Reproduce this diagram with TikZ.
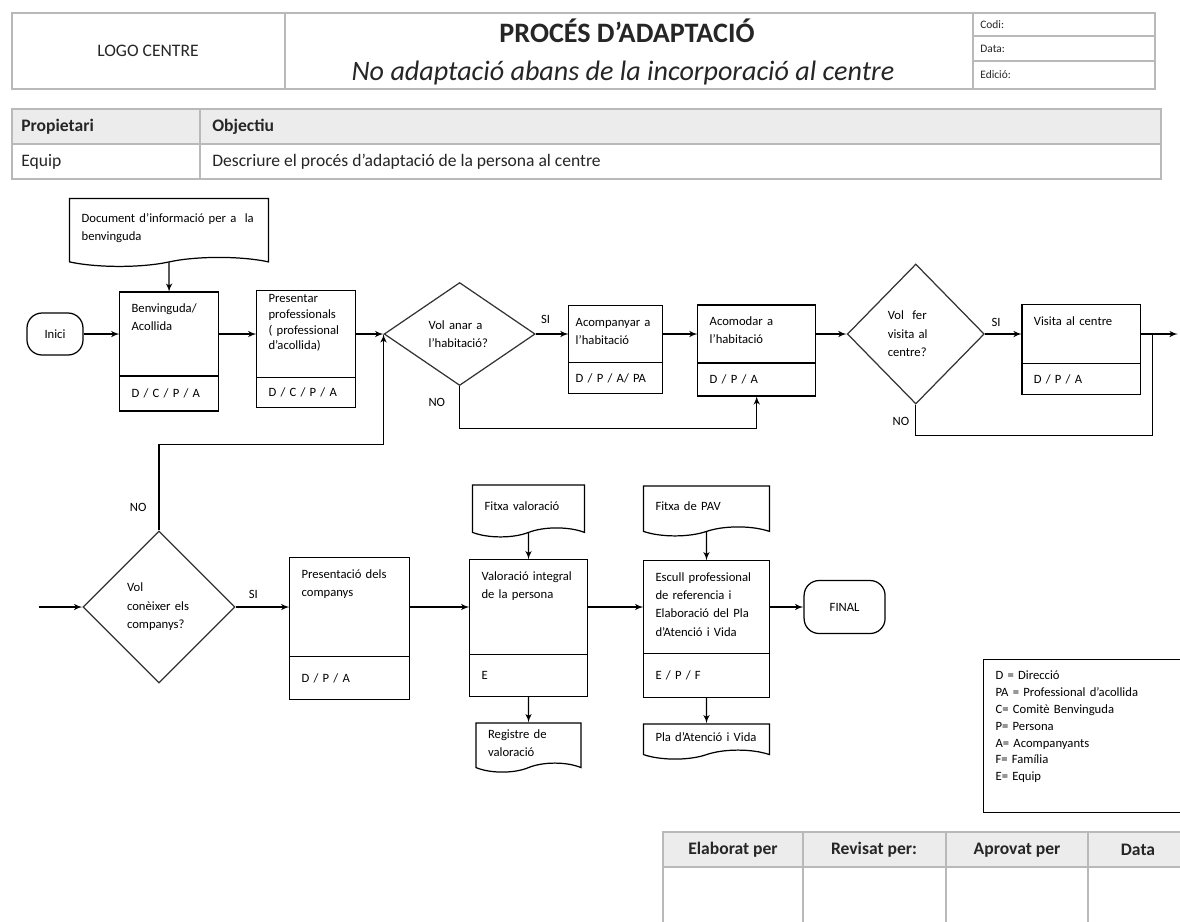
\documentclass[tikz,border=0pt]{standalone}
\usepackage{fontspec}
\setmainfont{Carlito}
\usepackage{tikz}
\usetikzlibrary{positioning}
\usetikzlibrary{arrows}
\usetikzlibrary{shapes}
\tikzstyle{line} = [draw, -latex', line width=0.7pt]
\newcommand{\petit}{\fontsize{7.2}{10.5}\selectfont}

\begin{document}
\begin{tikzpicture}[x=0.02cm, y=-0.02cm]

\tikzstyle{pas} = [rectangle, draw, align=left, outer sep=0pt, inner xsep=0.24cm, inner ysep=0.13cm, text height=0.28cm, font=\petit, line width=0.7pt]
\tikzstyle{rol} = [rectangle, draw, align=left, outer sep=0pt, inner xsep=0.24cm, inner ysep=0pt, font=\petit, line width=0.7pt]
\tikzstyle{decisio} = [diamond, draw=black!80, align=left, inner sep=0pt, font=\petit, line width=0.7pt]
\tikzstyle{doc} = [tape, tape bend top=none, tape bend bottom=in and out, tape bend height=0.18cm, draw, align=left, inner xsep=0.24cm, font=\petit, line width=0.7pt]
\tikzstyle{terminal} = [rectangle, rounded corners=0.3cm, draw, font=\petit, line width=0.7pt]
\tikzstyle{etiqueta} = [font=\petit, inner sep=0pt]
\tikzstyle{taula} = [draw=gray!55, line width=0.9pt]
\tikzstyle{cel} = [inner sep=0pt, text=black!85, font=\fontsize{10}{12}\selectfont]

\fill [white] (0,0) rectangle (1180,921);
\useasboundingbox (0,0) rectangle (1180,921);
\clip (0,0) rectangle (1180,921);

% Capcalera
\draw [taula] (12,13) rectangle (1155,89);
\draw [taula] (285,13) -- (285,89) (973,13) -- (973,89) (973,36) -- (1155,36) (973,61) -- (1155,61);
\node [cel] (logo) at (148,51) {LOGO CENTRE};
\node [cel, anchor=base, font=\fontsize{16}{19}\selectfont\bfseries] (titol) at (627,42) {PROCÉS D’ADAPTACIÓ};
\node [cel, anchor=base, font=\fontsize{16}{19}\selectfont\itshape] (subtitol) at (623,80) {No adaptació abans de la incorporació al centre};
\node [cel, anchor=west, font=\fontsize{6.5}{8}\selectfont] (codi) at (980,25) {Codi:};
\node [cel, anchor=west, font=\fontsize{6.5}{8}\selectfont] (data) at (980,49) {Data:};
\node [cel, anchor=west, font=\fontsize{6.5}{8}\selectfont] (edicio) at (980,75) {Edició:};

% Propietari / Objectiu
\fill [gray!15] (12,109) rectangle (1161,144);
\draw [taula] (12,109) rectangle (1161,179);
\draw [taula] (12,144) -- (1161,144) (200,109) -- (200,179);
\node [cel, anchor=west, font=\fontsize{10}{12}\selectfont\bfseries] (propietari) at (21,127) {Propietari};
\node [cel, anchor=west, font=\fontsize{10}{12}\selectfont\bfseries] (objectiu) at (212,127) {Objectiu};
\node [cel, anchor=west] (equip) at (21,162) {Equip};
\node [cel, anchor=west] (descripcio) at (212,162) {Descriure el procés d’adaptació de la persona al centre};

% Fila 1
\node [terminal, minimum width=1.12cm, minimum height=0.84cm] (inici) at (55,334) {Inici};
\node [pas, right=0.72cm of inici, text width=1.50cm, text depth=1.14cm] (benvinguda) {Benvinguda/\\Acollida};
\node [rol, below=0pt of benvinguda, text width=1.50cm, minimum height=0.70cm] (benvinguda_rol) {D / C / P / A};
\node [doc, above=0.68cm of benvinguda, text width=3.50cm, minimum height=1.36cm] (doc_info) {Document d’informació per a~~la\\benvinguda};
\node [pas, right=0.76cm of benvinguda, text width=1.50cm, text height=0.11cm, text depth=1.37cm, font=\fontsize{7.2}{9}\selectfont] (presentar) {Presentar\\professionals\\( professional\\d’acollida)};
\node [rol, below=0pt of presentar, text width=1.50cm, minimum height=0.60cm] (presentar_rol) {D / C / P / A};
\node [decisio, right=0.56cm of presentar, minimum width=3.02cm, minimum height=2.06cm, text width=1.24cm] (vol_habitacio) {Vol anar a\\l’habitació?};
\node [pas, right=0.66cm of vol_habitacio, inner xsep=0.14cm, text width=1.60cm, text depth=0.60cm] (acompanyar) {Acompanyar a\\l’habitació};
\node [rol, below=0pt of acompanyar, inner xsep=0.14cm, text width=1.60cm, minimum height=0.62cm] (acompanyar_rol) {D / P / A/ PA};
\node [pas, right=0.70cm of acompanyar, text width=1.88cm, text depth=0.62cm] (acomodar) {Acomodar a\\l’habitació};
\node [rol, below=0pt of acomodar, text width=1.88cm, minimum height=0.66cm] (acomodar_rol) {D / P / A};
\node [decisio, right=0.62cm of acomodar, minimum width=2.74cm, minimum height=2.80cm, text width=1.12cm] (vol_visita) {Vol~~fer\\visita al\\centre?};
\node [pas, right=0.74cm of vol_visita, text width=1.90cm, text depth=0.64cm] (visita) {Visita al centre};
\node [rol, below=0pt of visita, text width=1.90cm, minimum height=0.62cm] (visita_rol) {D / P / A};
\coordinate [right=0.24cm of visita] (unio);
\coordinate [right=0.74cm of visita] (sortida);

% Fila 2
\node [decisio, minimum width=3.04cm, minimum height=3.04cm, text width=1.28cm] (vol_companys) at (159,607) {Vol\\conèixer els\\companys?};
\coordinate (entrada) at (39,607);
\node [pas, right=1.08cm of vol_companys, text width=1.92cm, text depth=1.44cm] (presentacio) {Presentació dels\\companys};
\node [rol, below=0pt of presentacio, text width=1.92cm, minimum height=0.86cm] (presentacio_rol) {D / P / A};
\node [pas, right=1.20cm of presentacio, text width=1.88cm, text depth=1.36cm] (valoracio) {Valoració integral\\de la persona};
\node [rol, below=0pt of valoracio, text width=1.88cm, minimum height=0.84cm] (valoracio_rol) {E};
\node [doc, above=0.62cm of valoracio, text width=1.76cm, minimum height=1.04cm] (fitxa_val) {Fitxa valoració};
\node [doc, below=0.52cm of valoracio_rol, text width=1.62cm, minimum height=0.98cm] (registre) {Registre de\\valoració};
\node [pas, right=1.12cm of valoracio, text width=2.04cm, text depth=1.32cm] (escull) {Escull professional\\de referencia i\\Elaboració del Pla\\d’Atenció i Vida};
\node [rol, below=0pt of escull, text width=2.04cm, minimum height=0.88cm] (escull_rol) {E / P / F};
\node [doc, above=0.66cm of escull, text width=2.04cm, minimum height=1.00cm] (fitxa_pav) {Fitxa de PAV};
\node [doc, below=0.52cm of escull_rol, text width=2.04cm, minimum height=0.70cm] (pla) {Pla d’Atenció i Vida};
\node [terminal, right=0.68cm of escull, minimum width=1.62cm, minimum height=1.06cm] (final) {FINAL};

% Llegenda
\node [rectangle, draw, line width=0.7pt, anchor=north west, align=left, text width=3.62cm, inner xsep=0.24cm, inner ysep=0.12cm, text height=0.28cm, text depth=2.54cm, font=\fontsize{7.2}{9.6}\selectfont] (llegenda) at (983,659) {D = Direcció\\PA = Professional d’acollida\\C= Comitè Benvinguda\\P= Persona\\A= Acompanyants\\F= Família\\E= Equip};

% Signatures
\fill [gray!15] (663,832) rectangle (1188,867);
\draw [taula] (663,940) -- (663,832) -- (1188,832) -- (1188,940);
\draw [taula] (663,867) -- (1188,867) (803,832) -- (803,940) (946,832) -- (946,940) (1088,832) -- (1088,940);
\node [cel, font=\fontsize{10}{12}\selectfont\bfseries] (elaborat) at (733,850) {Elaborat per};
\node [cel, font=\fontsize{10}{12}\selectfont\bfseries] (revisat) at (874,850) {Revisat per:};
\node [cel, font=\fontsize{10}{12}\selectfont\bfseries] (aprovat) at (1017,850) {Aprovat per};
\node [cel, font=\fontsize{10}{12}\selectfont\bfseries] (data_sig) at (1138,850) {Data};

% Connectors
\path [line] (inici) -- (benvinguda);
\path [line] (doc_info) -- (benvinguda);
\path [line] (benvinguda) -- (presentar);
\path [line] (presentar) -- (vol_habitacio);
\path [line] (vol_habitacio) -- node [etiqueta, pos=0.3, above=0.2cm] {SI} (acompanyar);
\path [line] (acompanyar) -- (acomodar);
\path [line] (acomodar) -- (vol_visita);
\path [line] (vol_visita) -- node [etiqueta, pos=0.3, above=0.14cm] {SI} (visita);
\path [line] (visita) -- (sortida);
\path [line] (vol_habitacio.south) -- node [etiqueta, pos=0.4, left=0.28cm] {NO} ++(0,42) -| (acomodar_rol);
\draw [line width=0.7pt] (vol_visita.south) -- node [etiqueta, pos=0.55, left=0.12cm] {NO} ++(0,31) -| (unio);
\path [line] (entrada) -- (vol_companys);
\path [line] (vol_companys) -- node [etiqueta, pos=0.33, above=0.16cm] {SI} (presentacio);
\path [line] (vol_companys.north) -- node [etiqueta, pos=0.27, left=0.24cm] {NO} ++(0,-86) -| (vol_habitacio.west);
\path [line] (presentacio) -- (valoracio);
\path [line] (valoracio) -- (escull);
\path [line] (escull) -- (final);
\path [line] (fitxa_val) -- (valoracio);
\path [line] (valoracio_rol) -- (registre);
\path [line] (fitxa_pav) -- (escull);
\path [line] (escull_rol) -- (pla);

\end{tikzpicture}
\end{document}
